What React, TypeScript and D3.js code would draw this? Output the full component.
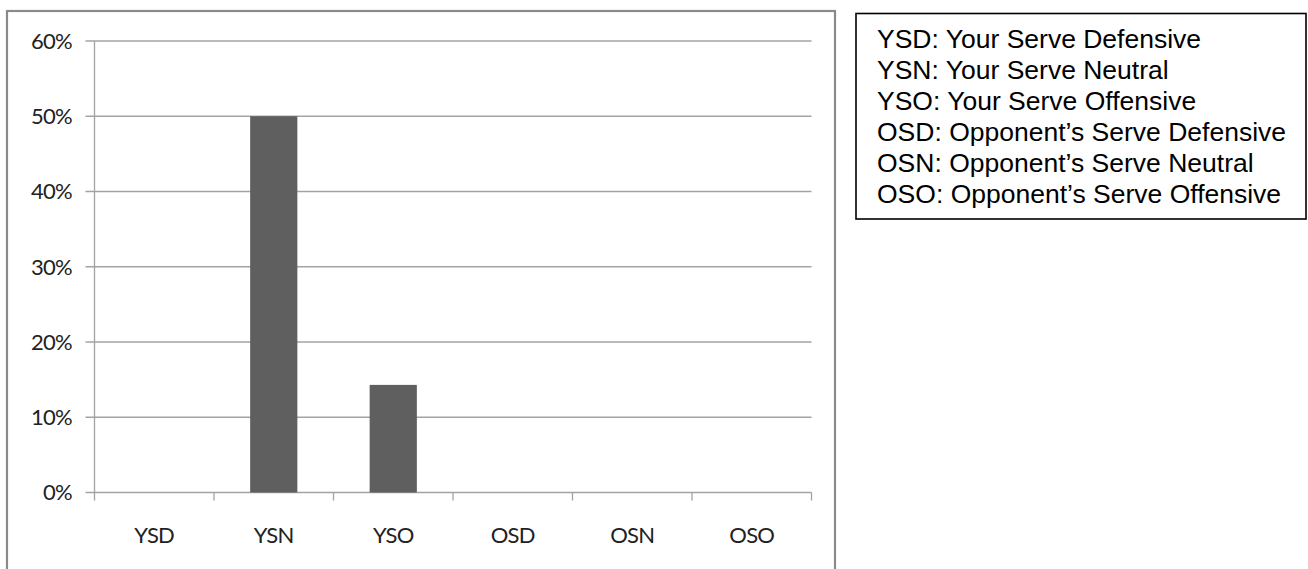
import React from "react";
import * as d3 from "d3";

// Share of points won by serve situation
const categories = ["YSD", "YSN", "YSO", "OSD", "OSN", "OSO"];
const shares = [0, 0.5, 0.143, 0, 0, 0];
const yTicks = [0, 0.1, 0.2, 0.3, 0.4, 0.5, 0.6];
const legendLines = [
  "YSD: Your Serve Defensive",
  "YSN: Your Serve Neutral",
  "YSO: Your Serve Offensive",
  "OSD: Opponent\u2019s Serve Defensive",
  "OSN: Opponent\u2019s Serve Neutral",
  "OSO: Opponent\u2019s Serve Offensive",
];

const W = 1308;
const H = 569;
const plot = { left: 94.5, right: 811.5, top: 41, bottom: 492.5 };
const gridColor = "#a3a3a3";
const labelFont = "Lato, 'Open Sans', sans-serif";
const labelSize = 22;

export default function App() {
  const x = d3
    .scaleBand<string>()
    .domain(categories)
    .range([plot.left, plot.right])
    .padding(0);
  const y = d3.scaleLinear().domain([0, 0.6]).range([plot.bottom, plot.top]);
  const fmt = d3.format(".0%");
  const barW = x.bandwidth() * 0.395;

  const legend = { x: 856, y: 13.5, w: 450, h: 205.5, textX: 877, firstBaseline: 47.5, pitch: 31 };

  return (
    <svg
      width={W}
      height={H}
      style={{ position: "absolute", left: 0, top: 0, background: "#fff" }}
    >
      {/* chart frame */}
      <rect x={7} y={11} width={828} height={H + 20} fill="none" stroke="#8a8a8a" strokeWidth={2.2} />

      {/* horizontal gridlines and y ticks */}
      {yTicks.map((t) => (
        <g key={t}>
          <line x1={plot.left - 9} x2={plot.right} y1={y(t)} y2={y(t)} stroke={gridColor} strokeWidth={1.3} />
          <text
            x={72}
            y={y(t)}
            dy="0.36em"
            textAnchor="end"
            fontFamily={labelFont}
            fontSize={labelSize}
            letterSpacing={-0.7}
            fill="#222"
          >
            {fmt(t)}
          </text>
        </g>
      ))}

      {/* y axis */}
      <line x1={plot.left} x2={plot.left} y1={plot.top} y2={plot.bottom} stroke={gridColor} strokeWidth={1.3} />

      {/* bars */}
      {categories.map((c, i) => {
        const cx = (x(c) as number) + x.bandwidth() / 2;
        const v = shares[i];
        return (
          <rect
            key={c}
            x={cx - barW / 2}
            y={y(v)}
            width={barW}
            height={y(0) - y(v)}
            fill="#5f5f5f"
          />
        );
      })}

      {/* x axis ticks at band boundaries */}
      {categories.concat(["end"]).map((c, i) => {
        const px = plot.left + i * x.step();
        return (
          <line key={"t" + i} x1={px} x2={px} y1={plot.bottom} y2={plot.bottom + 8} stroke={gridColor} strokeWidth={1.3} />
        );
      })}

      {/* category labels */}
      {categories.map((c) => (
        <text
          key={"l" + c}
          x={(x(c) as number) + x.bandwidth() / 2}
          y={543}
          textAnchor="middle"
          fontFamily={labelFont}
          fontSize={labelSize}
          letterSpacing={-0.7}
          fill="#222"
        >
          {c}
        </text>
      ))}

      {/* abbreviation key */}
      <rect x={legend.x} y={legend.y} width={legend.w} height={legend.h} fill="#fff" stroke="#000" strokeWidth={1.6} />
      {legendLines.map((s, i) => (
        <text
          key={s}
          x={legend.textX}
          y={legend.firstBaseline + i * legend.pitch}
          fontFamily="'Liberation Sans', Arial, sans-serif"
          fontSize={26.5}
          fill="#000"
        >
          {s}
        </text>
      ))}
    </svg>
  );
}
